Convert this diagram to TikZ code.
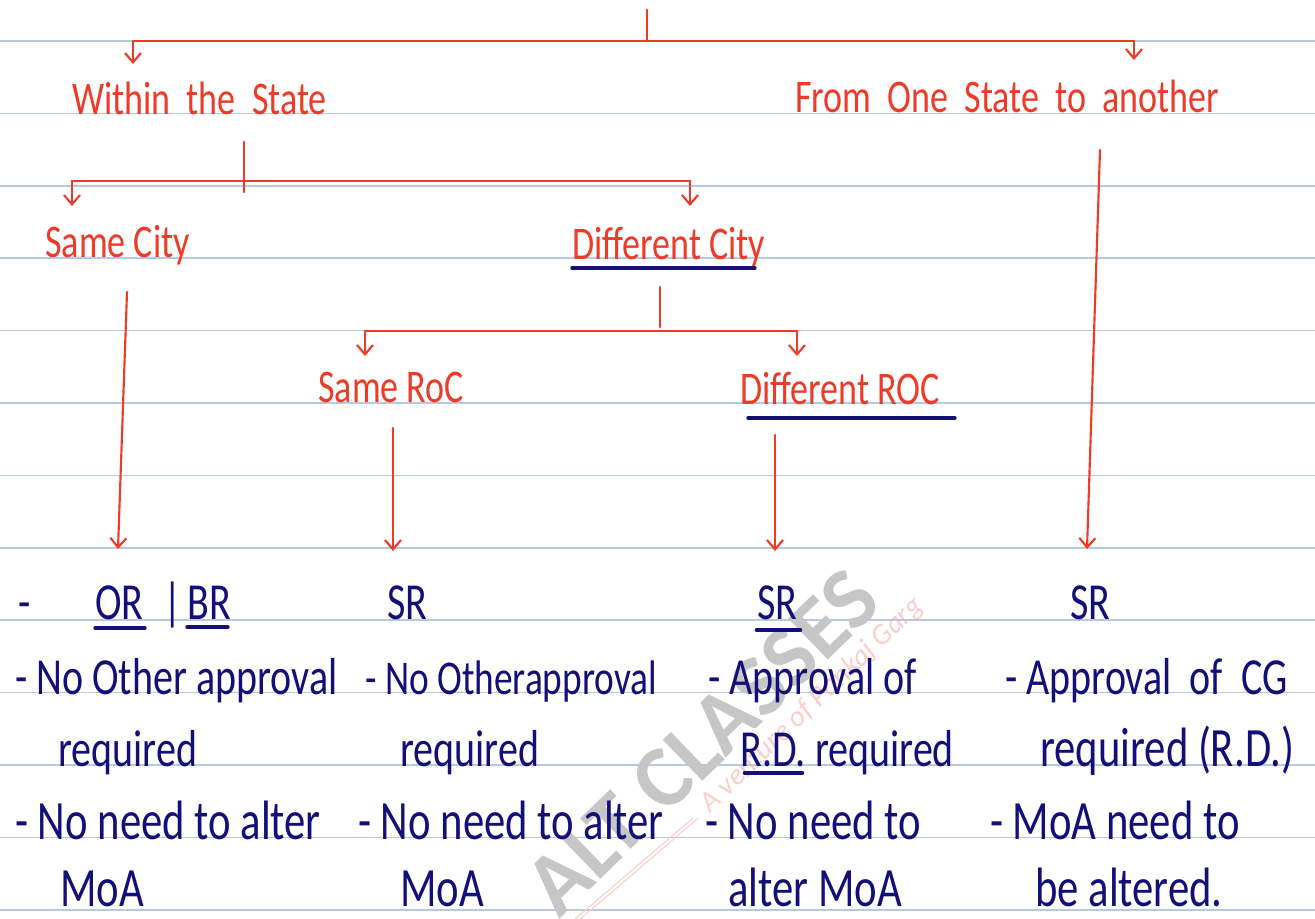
\documentclass[tikz,border=0pt]{standalone}
\usepackage{fontspec}
\usepackage{graphicx}
\setmainfont{Carlito}
\usetikzlibrary{arrows.meta}
\definecolor{ink}{RGB}{238,58,40}
\definecolor{navy}{RGB}{18,16,120}
\definecolor{rulec}{RGB}{184,200,224}
\newcommand{\tallt}[1]{\scalebox{1}[1.3]{#1}}
\begin{document}
\begin{tikzpicture}[x=0.75pt,y=-0.75pt,
  redl/.style={draw=ink,line width=2.2pt,line cap=round},
  redarr/.style={draw=ink,line width=1.6pt,line cap=round,-{Straight Barb[length=7pt,width=12pt,line width=1.6pt]}},
  lbl/.style={text=ink,font=\fontsize{27}{30}\selectfont,anchor=base west,inner sep=0pt},
  note/.style={text=navy,font=\fontsize{30}{34}\selectfont,anchor=base west,inner sep=0pt},
  notew/.style={note,font=\fontsize{32}{36}\selectfont},
  uline/.style={draw=navy,line width=2.5pt,line cap=round}]
\fill[white] (0,0) rectangle (1315,919);
\useasboundingbox (0,0) rectangle (1315,919);
% ruled paper
\foreach \k in {0,...,12} \draw[rulec,line width=1.1pt] (0,{41+72.4*\k}) -- (1315,{41+72.4*\k});
% watermark
\node[rotate=44,text=gray!45,font=\fontsize{66}{66}\selectfont\bfseries] (wm) at (702,742) {ALT CLASSES};
\node[rotate=44,text=ink!40,opacity=0.6,font=\itshape\fontsize{22}{22}\selectfont] (wm2) at (812,705) {A venture of Pankaj Garg};
\coordinate (wl1) at (575,919);
\coordinate (wl2) at (693,818);
\draw[ink!25,line width=0.8pt] (wl1) -- (wl2);
\draw[ink!25,line width=0.8pt] ([xshift=4pt]wl1) -- ([xshift=4pt]wl2);
% red labels
\node[lbl] (within) at (72,115) {\tallt{Within\ \ the\ \ State}};
\node[lbl] (inter) at (795,113) {\tallt{From\ \ One\ \ State\ \ to\ \ another}};
\node[lbl] (samecity) at (45,258) {\tallt{Same City}};
\node[lbl] (diffcity) at (572,260) {\tallt{Different City}};
\node[lbl] (sameroc) at (318,403) {\tallt{Same RoC}};
\node[lbl] (diffroc) at (740,405) {\tallt{Different\ ROC}};
% connectors, level 1
\coordinate (top) at (647,10);
\coordinate (topj) at (647,41);
\coordinate (b1l) at (133,41);
\coordinate (b1r) at (1134,41);
\coordinate (a1l) at (133,64);
\coordinate (a1r) at (1134,60);
\draw[redl] (top) -- (topj);
\draw[redl] (b1l) -- (b1r);
\draw[redarr] (b1l) -- (a1l);
\draw[redarr] (b1r) -- (a1r);
% level 2
\coordinate (w1) at (244,142);
\coordinate (w2) at (244,192);
\coordinate (b2l) at (72,181);
\coordinate (b2r) at (690,181);
\coordinate (a2l) at (72,206);
\coordinate (a2r) at (690,206);
\draw[redl] (w1) -- (w2);
\draw[redl] (b2l) -- (b2r);
\draw[redarr] (b2l) -- (a2l);
\draw[redarr] (b2r) -- (a2r);
% level 3
\coordinate (c1) at (660,287);
\coordinate (c2) at (660,327);
\coordinate (b3l) at (365,331);
\coordinate (b3r) at (797,331);
\coordinate (a3l) at (365,356);
\coordinate (a3r) at (797,356);
\draw[redl] (c1) -- (c2);
\draw[redl] (b3l) -- (b3r);
\draw[redarr] (b3l) -- (a3l);
\draw[redarr] (b3r) -- (a3r);
% long arrows
\coordinate (s1) at (127,292);
\coordinate (e1) at (118,549);
\coordinate (s2) at (393,428);
\coordinate (e2) at (393,551);
\coordinate (s3) at (775,435);
\coordinate (e3) at (775,551);
\coordinate (s4) at (1100,150);
\coordinate (e4) at (1087,549);
\draw[redarr] (s1) -- (e1);
\draw[redarr] (s2) -- (e2);
\draw[redarr] (s3) -- (e3);
\draw[redarr] (s4) -- (e4);
% underlines of labels
\draw[uline] (572,268) -- (755,268);
\draw[uline] (748,418) -- (955,418);
% notes row 1
\node[note] (d1) at (18,620) {\tallt{-}};
\node[note] (or) at (95,620) {\tallt{OR}};
\node[note] (sep) at (163,620) {\tallt{|}};
\node[note] (br) at (187,620) {\tallt{BR}};
\node[note] (sr1) at (387,620) {\tallt{SR}};
\node[note] (sr2) at (757,620) {\tallt{SR}};
\node[note] (sr3) at (1070,620) {\tallt{SR}};
\draw[uline] (95,628) -- (145,628);
\draw[uline] (187,627) -- (228,627);
\draw[uline,line width=3.5pt] (757,630) -- (800,630);
% row 2
\node[note] (n1a) at (15,695) {\tallt{- No Other approval}};
\node[note,font=\fontsize{28}{32}\selectfont] (n2a) at (365,695) {\tallt{- No Otherapproval}};
\node[note] (n3a) at (708,695) {\tallt{- Approval of}};
\node[note] (n4a) at (1005,695) {\tallt{- Approval\ \ of\ \ CG}};
% row 3
\node[note] (n1b) at (58,767) {\tallt{required}};
\node[note] (n2b) at (400,767) {\tallt{required}};
\node[note] (n3b) at (740,767) {\tallt{R.D. required}};
\node[notew] (n4b) at (1040,767) {\tallt{required\ (R.D.)}};
\draw[uline,line width=3.5pt] (745,773) -- (802,773);
% row 4
\node[notew] (n1c) at (15,840) {\tallt{- No need to alter}};
\node[notew] (n2c) at (358,840) {\tallt{- No need to alter}};
\node[notew] (n3c) at (705,840) {\tallt{- No need to}};
\node[notew] (n4c) at (990,840) {\tallt{- MoA need to}};
% row 5
\node[notew] (n1d) at (60,906) {\tallt{MoA}};
\node[notew] (n2d) at (400,906) {\tallt{MoA}};
\node[notew] (n3d) at (728,906) {\tallt{alter\ MoA}};
\node[notew] (n4d) at (1035,906) {\tallt{be altered.}};
\end{tikzpicture}
\end{document}
